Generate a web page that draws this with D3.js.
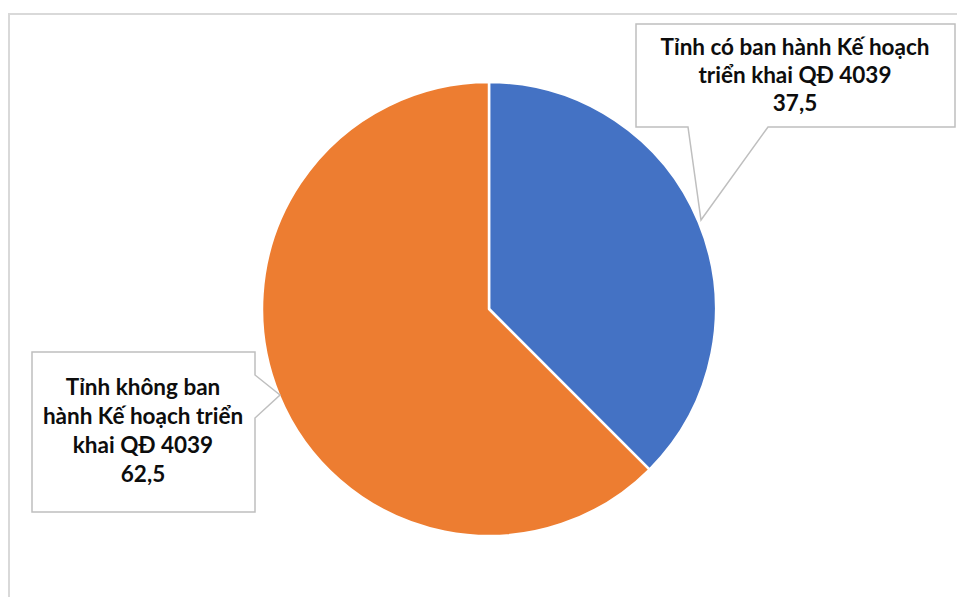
<!DOCTYPE html>
<html><head><meta charset="utf-8">
<script src="https://cdn.jsdelivr.net/npm/d3@7"></script>
<style>body{margin:0;background:#fff}svg{display:block}</style>
</head><body>
<svg id="c" width="957" height="597"></svg>
<script>
const categories = ["Tỉnh có ban hành Kế hoạch triển khai QĐ 4039", "Tỉnh không ban hành Kế hoạch triển khai QĐ 4039"];
const values = [37.5, 62.5];
const valueLabels = ["37,5", "62,5"];
const labelLines = [["Tỉnh có ban hành Kế hoạch", "triển khai QĐ 4039"], ["Tỉnh không ban", "hành Kế hoạch triển", "khai QĐ 4039"]];
const colors = ["#4472C4", "#ED7D31"];

const svg = d3.select("#c");
// outer chart border
svg.append("path").attr("d", "M9,600 L9,14 L960,14").attr("fill", "none").attr("stroke", "#d9d9d9").attr("stroke-width", 2);

const cx = 489, cy = 309, r = 227;
const pie = d3.pie().sort(null).value(d => d)(values);
const arc = d3.arc().innerRadius(0).outerRadius(r);
const g = svg.append("g").attr("transform", `translate(${cx},${cy})`);
g.selectAll("path").data(pie).join("path")
  .attr("d", arc).attr("fill", (d, i) => colors[i])
  .attr("stroke", "#fff").attr("stroke-width", 2.5).attr("stroke-linejoin", "round");

// callouts
const callouts = [
  {box: [636, 24, 955, 127], ptr: "bottom", base: [688, 768], tip: [701, 220], tx: 795, ty: [47, 75, 103]},
  {box: [32, 352, 255, 512], ptr: "right", base: [375, 418], tip: [280, 395], tx: 143, ty: [387, 416, 445, 474]}
];
callouts.forEach((c, i) => {
  const [x0, y0, x1, y1] = c.box;
  let d;
  if (c.ptr === "bottom") {
    d = `M${x0},${y0} L${x1},${y0} L${x1},${y1} L${c.base[1]},${y1} L${c.tip[0]},${c.tip[1]} L${c.base[0]},${y1} L${x0},${y1} Z`;
  } else {
    d = `M${x0},${y0} L${x1},${y0} L${x1},${c.base[0]} L${c.tip[0]},${c.tip[1]} L${x1},${c.base[1]} L${x1},${y1} L${x0},${y1} Z`;
  }
  svg.append("path").attr("d", d).attr("fill", "#fff").attr("stroke", "#bfbfbf").attr("stroke-width", 1.5);
  const lines = labelLines[i].concat([valueLabels[i]]);
  const t = svg.append("text").attr("text-anchor", "middle")
    .attr("font-family", "Lato, 'Open Sans', sans-serif").attr("font-weight", "bold")
    .attr("font-size", 22.5).attr("fill", "#0d0d0d");
  lines.forEach((l, j) => t.append("tspan").attr("x", c.tx).attr("y", c.ty[j]).attr("dy", "0.35em").text(l));
});
</script>
</body></html>
